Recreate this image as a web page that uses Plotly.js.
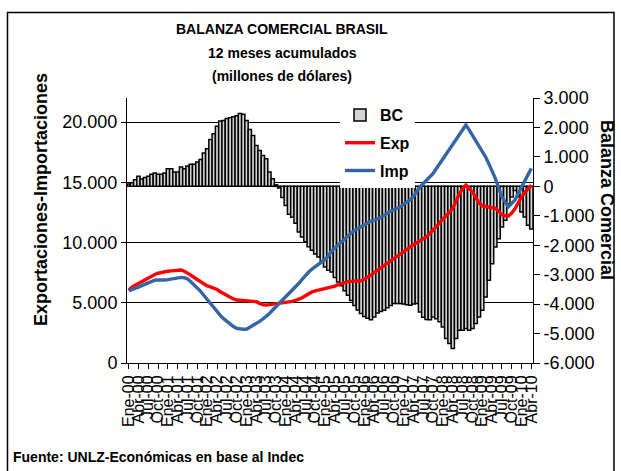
<!DOCTYPE html>
<html>
<head>
<meta charset="utf-8">
<script src="https://cdn.plot.ly/plotly-3.0.1.min.js"></script>
<style>
html,body{margin:0;padding:0;background:#fff;}
#chart{width:621px;height:471px;}
</style>
</head>
<body>
<div id="chart"></div>
<script>
// Month names and years (Ene-00 .. Abr-10)
const monthNames = ['Ene','Feb','Mar','Abr','May','Jun','Jul','Ago','Sep','Oct','Nov','Dic'];
const years = ['00','01','02','03','04','05','06','07','08','09','10'];
const categories = [];
for (const y of years) {
  for (const m of monthNames) {
    categories.push(m + '-' + y);
  }
}
categories.length = 124;
const tickLabels = categories.filter((c, i) => i % 3 === 0);

// Exportaciones (millones de dólares, 12 meses acumulados)
const exportaciones = [
6050,6300,6450,6600,6720,6900,7050,7250,7350,7450,7520,7580,
7620,7650,7680,7700,7720,7620,7480,7300,7100,6920,6700,6500,
6400,6320,6220,6100,5920,5750,5620,5480,5320,5230,5200,5180,
5170,5150,5120,5090,4950,4840,4810,4850,4900,4920,4950,4980,
5000,5050,5120,5200,5290,5420,5580,5750,5900,5980,6050,6100,
6150,6200,6280,6380,6500,6600,6680,6750,6780,6800,6820,6830,
6950,7100,7300,7500,7700,7900,8100,8300,8480,8650,8850,9050,
9250,9450,9650,9820,9980,10150,10320,10480,10750,11050,11320,11590,
11900,12280,12550,12840,13450,14050,14450,14770,14500,14200,13750,13300,
13050,13000,12970,12920,12840,12600,12300,12220,12200,12450,12800,13300,
13800,14150,14500,14770
];

// Importaciones (millones de dólares, 12 meses acumulados)
const importaciones = [
6000,6080,6180,6300,6420,6540,6650,6780,6870,6900,6880,6890,
6920,6980,7030,7080,7110,7080,6970,6750,6500,6220,5950,5600,
5250,4900,4550,4250,3950,3680,3430,3220,3020,2880,2820,2800,
2800,2950,3120,3290,3450,3650,3840,4100,4400,4670,4950,5220,
5500,5780,6050,6330,6620,6950,7300,7550,7800,8000,8200,8350,
8600,8900,9300,9550,9800,10050,10350,10550,10800,11000,11150,11300,
11450,11650,11780,11850,11950,12100,12250,12450,12620,12720,12800,12950,
13200,13400,13530,13850,14250,14630,14900,15150,15450,15740,16150,16550,
16990,17400,17820,18230,18600,19000,19400,19750,19350,18900,18510,18050,
17600,17120,16550,15950,15330,14550,13800,13350,12970,13250,13530,14100,
14630,15150,15700,16160
];

// Balanza comercial (millones de dólares)
const balanza = [
80,120,220,340,250,300,340,410,450,410,410,450,
600,600,490,490,660,600,690,750,750,830,910,1130,
1280,1590,1790,2040,2220,2240,2300,2330,2360,2400,2470,2450,
2240,1930,1730,1390,1220,1050,940,490,260,50,-60,-380,
-650,-950,-1050,-1250,-1550,-1720,-1880,-2050,-2170,-2300,-2400,-2580,
-2740,-2850,-2910,-3100,-3250,-3380,-3550,-3700,-3880,-4050,-4200,-4320,
-4420,-4480,-4530,-4440,-4300,-4250,-4210,-4120,-4050,-3980,-3980,-3980,
-4000,-4020,-4040,-4000,-3980,-4270,-4450,-4520,-4530,-4440,-4500,-4600,
-4780,-5170,-5340,-5510,-5170,-4890,-4890,-4830,-4890,-4830,-4660,-4440,
-4210,-3760,-3190,-2630,-2060,-1780,-1380,-1150,-590,-360,-140,-360,
-870,-1040,-1320,-1450
];

const leftTicks = [0, 5000, 10000, 15000, 20000];
const leftTickText = ['0', '5.000', '10.000', '15.000', '20.000'];
const rightTicks = [-6000, -5000, -4000, -3000, -2000, -1000, 0, 1000, 2000, 3000];
const rightTickText = ['-6.000', '-5.000', '-4.000', '-3.000', '-2.000', '-1.000', '0', '1.000', '2.000', '3.000'];

const FONT = '"Liberation Sans", Arial, Helvetica, sans-serif';

// Plot area in pixels: left 127, right 533, top 98, bottom 363
const L = 127, R = 533, T = 98, B = 363, W = 621, H = 471;
const px = x => (x - L) / (R - L);
const py = y => (B - y) / (B - T);

const traces = [
  {
    type: 'bar', name: 'BC', x: categories, y: balanza,
    xaxis: 'x', yaxis: 'y', legendgroup: 'g1',
    marker: { color: '#d4d4d4', line: { color: '#000000', width: 1.5 } }
  },
  {
    type: 'scatter', mode: 'lines', name: 'Exp', x: categories, y: exportaciones,
    xaxis: 'x', yaxis: 'y2', legendgroup: 'g2',
    line: { color: '#ff0000', width: 3.4 }
  },
  {
    type: 'scatter', mode: 'lines', name: 'Imp', x: categories, y: importaciones,
    xaxis: 'x', yaxis: 'y2', legendgroup: 'g3',
    line: { color: '#3465a4', width: 3.4 }
  }
];

const layout = {
  width: W, height: H,
  margin: { l: L, r: W - R, t: T, b: H - B, pad: 0 },
  paper_bgcolor: '#ffffff', plot_bgcolor: 'rgba(0,0,0,0)',
  font: { family: FONT, color: '#000000', size: 16 },
  bargap: 0,
  showlegend: true,
  legend: {
    x: px(340), y: py(98), xanchor: 'left', yanchor: 'top',
    bgcolor: '#ffffff', borderwidth: 0,
    font: { family: FONT, size: 16, weight: 'bold', color: '#000' },
    tracegroupgap: 4, traceorder: 'grouped'
  },
  xaxis: {
    type: 'category', range: [-0.5, 123.5],
    tickmode: 'array', tickvals: tickLabels, ticktext: tickLabels,
    tickangle: -90, tickfont: { family: FONT, size: 16, color: '#000' },
    ticks: 'outside', ticklen: 5, tickcolor: '#000', tickwidth: 1,
    showline: true, linecolor: '#000', linewidth: 1,
    showgrid: false, zeroline: false, automargin: false, fixedrange: true
  },
  yaxis: {
    side: 'right', range: [-6000, 3000],
    tickmode: 'array', tickvals: rightTicks, ticktext: rightTickText,
    tickfont: { family: FONT, size: 18, color: '#000' },
    ticks: 'outside', ticklen: 6, tickcolor: '#000', tickwidth: 1,
    showline: true, linecolor: '#000', linewidth: 1,
    showgrid: false, zeroline: false, automargin: false, fixedrange: true
  },
  yaxis2: {
    overlaying: 'y', side: 'left', range: [0, 22000],
    tickmode: 'array', tickvals: leftTicks, ticktext: leftTickText,
    tickfont: { family: FONT, size: 18, color: '#000' },
    ticks: 'outside', ticklen: 5, tickcolor: '#000', tickwidth: 1,
    showline: true, linecolor: '#000', linewidth: 1,
    showgrid: true, gridcolor: '#000', gridwidth: 1,
    zeroline: false, automargin: false, fixedrange: true
  },
  annotations: [
    { text: 'BALANZA COMERCIAL BRASIL', xref: 'paper', yref: 'paper', x: px(282), y: py(29),
      xanchor: 'center', yanchor: 'middle', showarrow: false,
      font: { family: FONT, size: 14, weight: 'bold', color: '#000' } },
    { text: '12 meses acumulados', xref: 'paper', yref: 'paper', x: px(282), y: py(53),
      xanchor: 'center', yanchor: 'middle', showarrow: false,
      font: { family: FONT, size: 14, weight: 'bold', color: '#000' } },
    { text: '(millones de dólares)', xref: 'paper', yref: 'paper', x: px(282), y: py(76),
      xanchor: 'center', yanchor: 'middle', showarrow: false,
      font: { family: FONT, size: 14, weight: 'bold', color: '#000' } },
    { text: 'Exportaciones-Importaciones', xref: 'paper', yref: 'paper', x: px(41), y: py(200),
      xanchor: 'center', yanchor: 'middle', textangle: -90, showarrow: false,
      font: { family: FONT, size: 18, weight: 'bold', color: '#000' } },
    { text: 'Balanza Comercial', xref: 'paper', yref: 'paper', x: px(607), y: py(200),
      xanchor: 'center', yanchor: 'middle', textangle: 90, showarrow: false,
      font: { family: FONT, size: 18, weight: 'bold', color: '#000' } },
    { text: 'Fuente: UNLZ-Económicas en base al Indec', xref: 'paper', yref: 'paper', x: px(11), y: py(457),
      xanchor: 'left', yanchor: 'middle', showarrow: false,
      font: { family: FONT, size: 14, weight: 'bold', color: '#000' } }
  ],
  shapes: [
    { type: 'rect', xref: 'paper', yref: 'paper', layer: 'above',
      x0: px(7.5), x1: px(614), y0: py(495), y1: py(12.5),
      line: { color: '#000', width: 1.5 }, fillcolor: 'rgba(0,0,0,0)' }
  ]
};

Plotly.newPlot('chart', traces, layout, { staticPlot: true, displayModeBar: false });
</script>
</body>
</html>
